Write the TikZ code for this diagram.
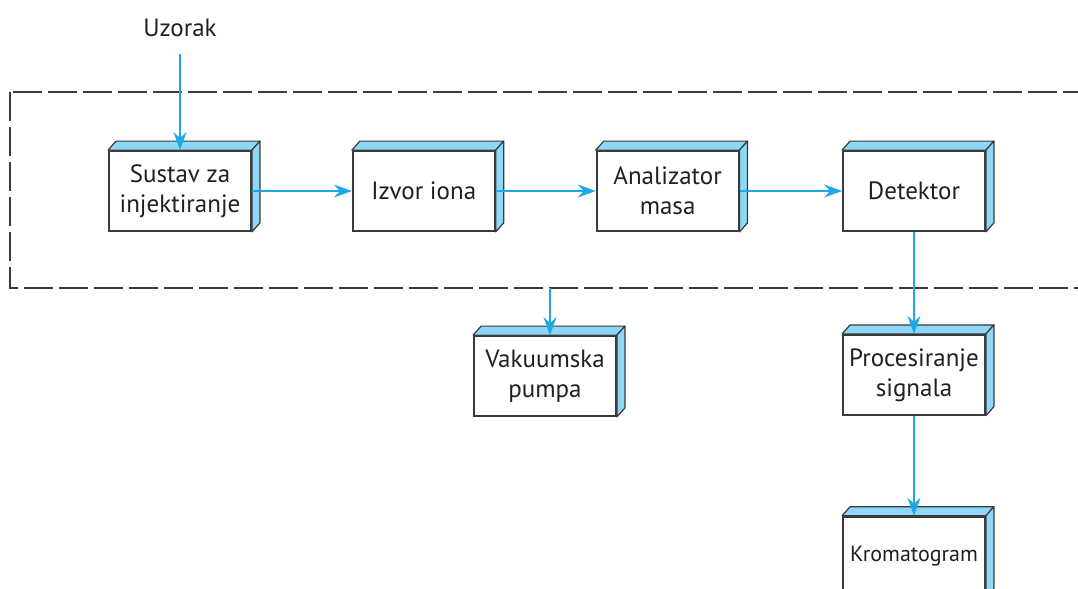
\documentclass[tikz,border=0pt]{standalone}
\usepackage{fontspec}
\setmainfont{PT Sans}
\usepackage{tikz}
\usetikzlibrary{arrows.meta}
\usetikzlibrary{positioning}

\definecolor{flowblue}{HTML}{1CA9E6}
\definecolor{sideblue}{HTML}{8FD7F7}
\definecolor{edgegray}{HTML}{3A3A3A}
\definecolor{inkgray}{HTML}{231F20}

\begin{document}
\begin{tikzpicture}
[
block/.style   ={rectangle, draw=edgegray, line width=0.9pt, fill=white, text=inkgray, align=center, minimum width=71pt, minimum height=40pt, inner sep=2pt, font=\fontsize{12.5}{15}\selectfont},
small/.style   ={font=\fontsize{11}{13}\selectfont},
side/.style    ={fill=sideblue, draw=edgegray, line width=0.6pt, line join=round},
frame/.style   ={draw=edgegray, line width=0.7pt, dash pattern=on 14.5pt off 3pt},
line/.style    ={draw=flowblue, line width=0.75pt, -{Stealth[length=9pt,width=6.5pt,inset=3pt]}},
node distance = 50pt,
auto]

\useasboundingbox (0,0) rectangle (539pt,-294.5pt);

\draw[frame] (5pt,-46pt) rectangle (580pt,-144pt);

\node[text=inkgray, font=\fontsize{12.5}{15}\selectfont] (sample) at (90pt,-14pt) {Uzorak};

\node[block] (inject) at (90pt,-95.5pt) {Sustav za\\injektiranje};
\node[block, right=of inject] (ion) {Izvor iona};
\node[block, right=of ion] (mass) {Analizator\\masa};
\node[block, right=51.3pt of mass] (det) {Detektor};

\node[block, below=51pt of det] (proc) {Procesiranje\\signala};
\node[block, small, below=of proc] (chrom) {Kromatogram};

\node[block] (vac) at (272.5pt,-188pt) {Vakuumska\\pumpa};

% bocne plohe kocki
\foreach \n in {inject, ion, mass, det, proc, chrom, vac} {
  \path[side] (\n.north west) -- ++(4pt,4.5pt) -- ([shift={(4pt,4.5pt)}]\n.north east) -- (\n.north east) -- cycle;
  \path[side] (\n.north east) -- ++(4pt,4.5pt) -- ([shift={(4pt,4.5pt)}]\n.south east) -- (\n.south east) -- cycle;
}

\coordinate (pump) at (275pt,-144pt);

\path[line] (sample.south) ++(0,-5pt) -- (inject.north);
\path[line] (inject) -- (ion);
\path[line] (ion) -- (mass);
\path[line] (mass) -- (det);
\path[line] (det) -- (proc);
\path[line] (proc) -- (chrom);
\path[line] (pump) -- (pump |- vac.north);
\end{tikzpicture}
\end{document}
